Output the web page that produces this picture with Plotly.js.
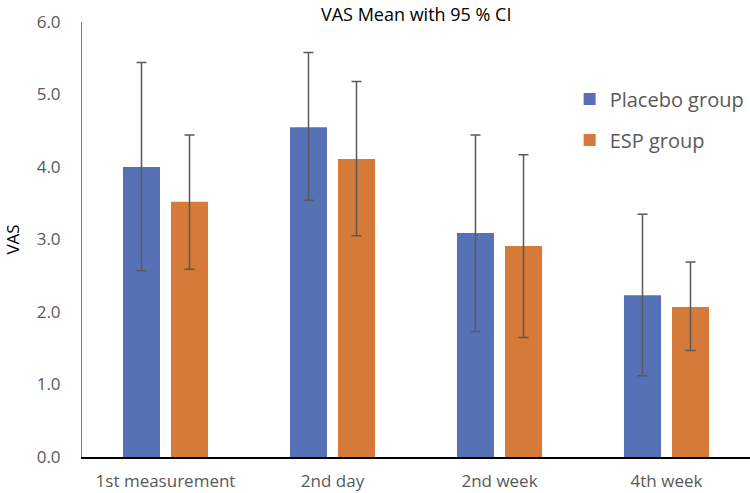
<!DOCTYPE html>
<html>
<head>
<meta charset="utf-8">
<script src="https://cdn.plot.ly/plotly-3.0.1.min.js"></script>
<style>html,body{margin:0;padding:0;background:#fff}#chart{width:750px;height:493px}</style>
</head>
<body>
<div id="chart"></div>
<script>
var categories = ["1st measurement", "2nd day", "2nd week", "4th week"];
var placeboMean = [4.00, 4.55, 3.09, 2.23];
var placeboUpper = [5.44, 5.58, 4.44, 3.35];
var placeboLower = [2.57, 3.54, 1.73, 1.12];
var espMean = [3.52, 4.11, 2.91, 2.07];
var espUpper = [4.44, 5.18, 4.17, 2.69];
var espLower = [2.59, 3.05, 1.65, 1.47];
var yTicks = [0, 1, 2, 3, 4, 5, 6];
var yTickText = ["0.0", "1.0", "2.0", "3.0", "4.0", "5.0", "6.0"];

function diff(a, b) { return a.map(function (v, i) { return +(v - b[i]).toFixed(3); }); }

var errStyle = {color: "#595959", thickness: 1.5, width: 5};

var traces = [
  {
    type: "bar", name: "Placebo group", legendgroup: "p", x: categories, y: placeboMean,
    marker: {color: "#5671b5"},
    error_y: Object.assign({type: "data", symmetric: false,
      array: diff(placeboUpper, placeboMean), arrayminus: diff(placeboMean, placeboLower)}, errStyle)
  },
  {
    type: "bar", name: "ESP group", legendgroup: "e", x: categories, y: espMean,
    marker: {color: "#d57a39"},
    error_y: Object.assign({type: "data", symmetric: false,
      array: diff(espUpper, espMean), arrayminus: diff(espMean, espLower)}, errStyle)
  }
];

var layout = {
  width: 750, height: 493,
  margin: {l: 82, r: 0, t: 22, b: 36},
  paper_bgcolor: "#fff", plot_bgcolor: "#fff",
  font: {family: "Open Sans, sans-serif", color: "#595959"},
  title: {text: "VAS Mean with 95 % CI", x: 0.555, xanchor: "center", y: 0.982, yanchor: "top",
    font: {size: 18, color: "#000", family: "Open Sans, sans-serif"}},
  barmode: "group", bargap: 0.425, bargroupgap: 0.229,
  showlegend: true,
  legend: {x: 0.73, y: 0.868, xanchor: "left", yanchor: "top", traceorder: "grouped",
    font: {size: 20, color: "#595959"}, tracegroupgap: 12, bgcolor: "rgba(0,0,0,0)"},
  xaxis: {
    showgrid: false, zeroline: false, showline: true, linecolor: "#000", linewidth: 1.5,
    ticks: "", ticklabelstandoff: 8,
    tickfont: {size: 17, color: "#595959"}
  },
  yaxis: {
    range: [0, 6], tickvals: yTicks, ticktext: yTickText,
    showgrid: false, zeroline: false, showline: true, linecolor: "#7f7f7f", linewidth: 1,
    ticks: "", ticklabelstandoff: 17,
    tickfont: {size: 17, color: "#595959"},
    title: {text: "VAS", font: {size: 17, color: "#000"}, standoff: 12}
  }
};

Plotly.newPlot("chart", traces, layout, {displayModeBar: false, staticPlot: true});
</script>
</body>
</html>
